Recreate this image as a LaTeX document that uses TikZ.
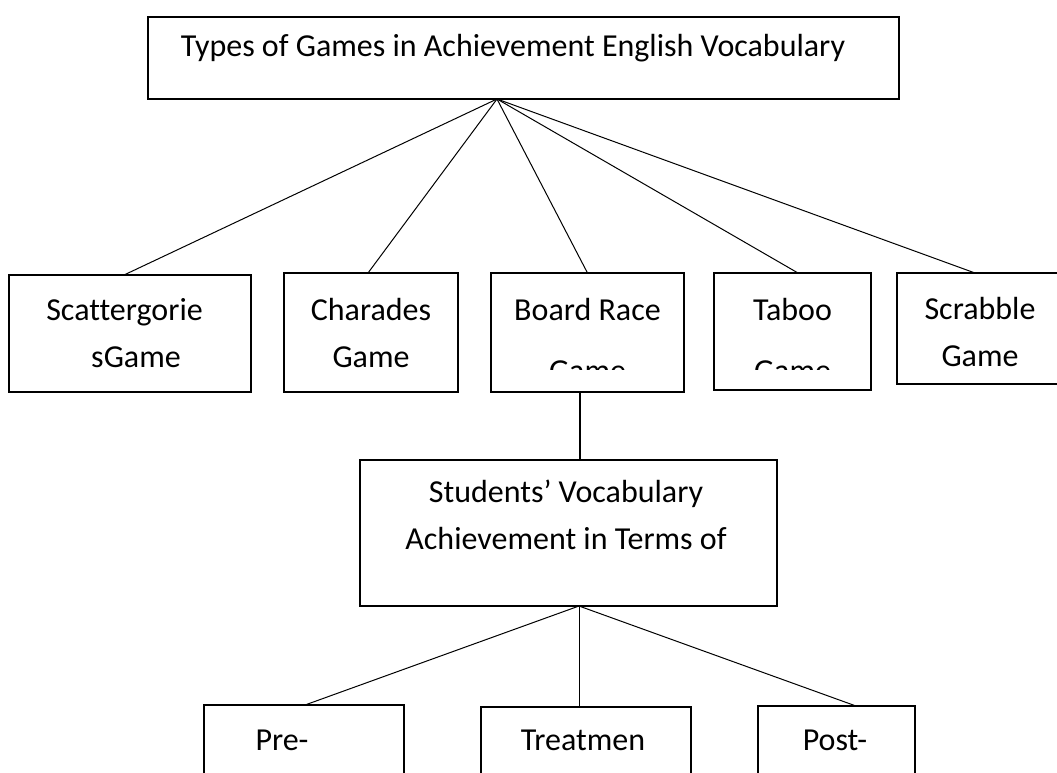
\documentclass[tikz,border=0pt]{standalone}
\usepackage{fontspec}
\setmainfont{Carlito}[Ligatures=NoCommon]
\usetikzlibrary{positioning, calc}

\begin{document}
\begin{tikzpicture}[
  x=1pt, y=-1pt,
  every node/.style={font=\fontsize{32}{47}\selectfont},
  box/.style n args={2}{rectangle, draw=black, line width=1.8pt, outer sep=0pt, inner sep=0pt, minimum width=#1, minimum height=#2, align=center},
  txt/.style={inner sep=0pt, align=center},
  link/.style={line width=1pt},
]
  \useasboundingbox (0,0) rectangle (1057,772);
  \clip (0,0) rectangle (1057,772);

  \node[box={751pt}{82pt}] (types) at (523.5,58) {};
  \node[txt] (typestxt) at (513,48) {Types of Games in Achievement English Vocabulary};
  \coordinate (hub) at ([xshift=-26.5]types.south);

  \node[box={242pt}{117pt}] (scatter) at (130,333.5) {};
  \node[box={174pt}{119pt}] (charades) at (371,332.5) {};
  \node[box={193pt}{119pt}] (board) at (587.5,332.5) {};
  \node[box={157pt}{117pt}] (taboo) at (792.5,331.5) {};
  \node[box={200pt}{111pt}] (scrabble) at (997,328.5) {};

  \node[txt] (scattertxt) at (124.5,333.5) {Scattergorie\\\hspace*{23pt}sGame};
  \node[txt] (charadestxt) at (371,332.5) {Charades\\Game};
  \node[txt] (scrabbletxt) at (980,331.5) {Scrabble\\Game};
  \node[txt, anchor=base] (boardtxt) at (587.5,320) {Board Race};
  \node[txt, anchor=base] (tabootxt) at (792.5,320) {Taboo};
  \begin{scope}
    \clip (board.north west) rectangle (871,369);
    \node[txt, anchor=base] (boardgame) at (587.5,381.5) {Game};
    \node[txt, anchor=base] (taboogame) at (792.5,381.5) {Game};
  \end{scope}

  \draw[link] (hub) -- ([xshift=-6]scatter.north);
  \draw[link] (hub) -- ([xshift=-3]charades.north);
  \draw[link] (hub) -- (board.north);
  \draw[link] (hub) -- ([xshift=5.5]taboo.north);
  \draw[link] (hub) -- ([xshift=-22]scrabble.north);

  \node[box={417pt}{146pt}] (students) at (568.5,533) {};
  \node[txt] (studentstxt) at (566,515) {Students’ Vocabulary\\Achievement in Terms of};
  \draw[link, line width=1.5pt] ([xshift=-7.5]board.south) -- ([xshift=-7.5]board.south |- students.north);
  \coordinate (hub2) at ([xshift=10.5]students.south);

  \node[box={200pt}{117pt}] (pre) at (304,763.5) {};
  \node[box={210pt}{117pt}] (treat) at (586,765.5) {};
  \node[box={157pt}{117pt}] (post) at (836.5,764.5) {};
  \node[txt] (pretxt) at (282,740) {Pre-};
  \node[txt] (treattxt) at (583,740) {Treatmen};
  \node[txt] (posttxt) at (835,740) {Post-};

  \draw[link] (hub2) -- ([xshift=1]pre.north);
  \draw[link] (hub2) -- ([xshift=-7]treat.north);
  \draw[link] (hub2) -- ([xshift=19.5]post.north);
\end{tikzpicture}
\end{document}
